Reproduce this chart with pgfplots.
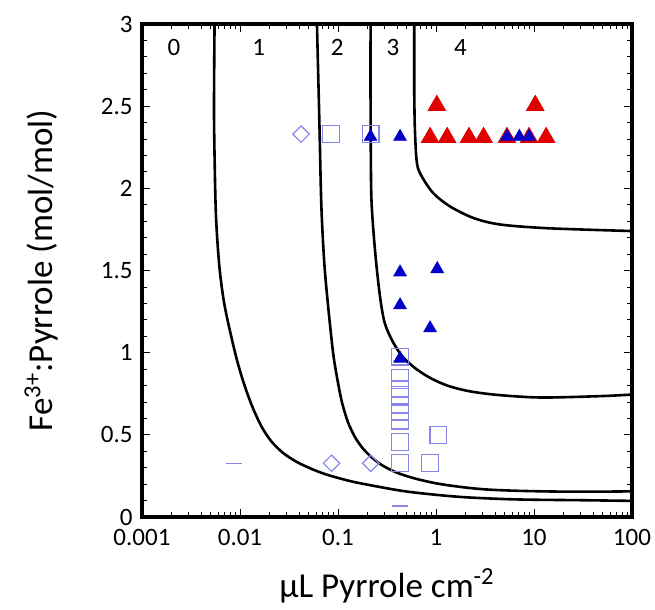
\documentclass[border=0pt]{standalone}
\usepackage{pgfplots}
\pgfplotsset{compat=1.18}
\usepackage{fontspec}
\setmainfont{Carlito}
\definecolor{tred}{RGB}{225,0,0}
\definecolor{tblue}{RGB}{0,0,200}
\definecolor{lblue}{RGB}{135,135,235}

\begin{document}
\begin{tikzpicture}
\begin{axis}[
    name=ax,
    scale only axis,
    width=245pt, height=246.5pt,
    xmode=log,
    xmin=0.001, xmax=100, ymin=0, ymax=3,
    xtick={0.001,0.01,0.1,1,10,100},
    xticklabels={0.001,0.01,0.1,1,10,100},
    ytick={0,0.5,1,1.5,2,2.5,3},
    yticklabels={0,0.5,1,1.5,2,2.5,3},
    minor y tick num=4,
    tick align=inside,
    xtick pos=both, ytick pos=both,
    major tick length=4pt, minor tick length=2.5pt,
    every tick/.style={black, line width=0.4pt},
    axis line style={line width=1.6pt},
    /pgf/number format/assume math mode=true,
    ticklabel style={font=\fontsize{12.5}{14}\selectfont, inner sep=0pt},
    xticklabel style={yshift=-6pt},
    yticklabel style={xshift=-4.5pt},
    xlabel={µL Pyrrole cm\textsuperscript{-2}},
    ylabel={Fe\textsuperscript{3+}:Pyrrole (mol/mol)},
    label style={font=\fontsize{17.5}{19}\selectfont},
    xlabel style={at={(axis description cs:0.5,-0.14)}, anchor=center},
    ylabel style={at={(axis description cs:-0.205,0.5)}, anchor=center},
    clip=true,
]

% open light-blue symbols
\addplot[only marks, mark=square, mark size=4.2pt, lblue, mark options={line width=0.6pt}] coordinates {
    (0.085,2.33) (0.215,2.33)
    (0.43,0.976) (0.43,0.844) (0.43,0.777) (0.43,0.732) (0.43,0.682)
    (0.43,0.641) (0.43,0.586) (0.43,0.455) (0.43,0.327)
    (1.06,0.50) (0.87,0.327)
};
\addplot[only marks, mark=square, mark size=2.9pt, lblue, mark options={rotate=45, line width=0.6pt}] coordinates {
    (0.042,2.33) (0.086,0.327) (0.216,0.327)
};
\addplot[only marks, mark=-, mark size=4pt, lblue, mark options={line width=0.6pt}] coordinates {
    (0.0086,0.327) (0.43,0.067)
};

% boundary curves
\addplot[black, line width=1.3pt, smooth] coordinates {
    (0.0055,3) (0.00543,2.5) (0.0055,2.2) (0.00569,1.83) (0.00617,1.52)
    (0.0070,1.28) (0.00891,1.0) (0.01072,0.83) (0.01318,0.68) (0.0166,0.55)
    (0.0209,0.46) (0.0275,0.39) (0.038,0.335) (0.055,0.29) (0.0794,0.255)
    (0.141,0.215) (0.282,0.18) (0.501,0.155) (1,0.135) (2,0.12)
    (5,0.109) (10,0.105) (31.6,0.102) (100,0.098)
};
\addplot[black, line width=1.3pt, smooth] coordinates {
    (0.061,3) (0.0646,2.4) (0.0676,1.9) (0.0724,1.55) (0.0794,1.28)
    (0.0891,1.0) (0.0977,0.85) (0.1096,0.70) (0.1259,0.58) (0.1479,0.49)
    (0.1778,0.42) (0.2188,0.365) (0.2818,0.315) (0.398,0.27) (0.6026,0.235)
    (1,0.205) (1.778,0.183) (3.162,0.168) (6.31,0.16) (15.85,0.155)
    (39.8,0.154) (100,0.156)
};
\addplot[black, line width=1.3pt, smooth] coordinates {
    (0.215,3) (0.215,2.5) (0.218,2.0) (0.226,1.8) (0.245,1.55)
    (0.27,1.33) (0.30,1.18) (0.36,1.07) (0.45,0.98) (0.6,0.91)
    (0.85,0.85) (1.3,0.80) (2.2,0.765) (4.4,0.742) (12,0.727) (50,0.736) (100,0.745)
};
\addplot[black, line width=1.3pt, smooth] coordinates {
    (0.60,3) (0.60,2.6) (0.61,2.35) (0.64,2.15) (0.72,2.07)
    (0.94,1.97) (1.39,1.89) (2.4,1.82) (4.5,1.78) (14,1.757) (100,1.74)
};

% filled triangles
\addplot[only marks, mark=triangle*, mark size=5pt, tred, mark options={yshift=-1.25pt}] coordinates {
    (1.02,2.52) (10.3,2.52)
    (0.87,2.325) (1.30,2.325) (2.17,2.325) (3.06,2.325)
    (5.3,2.325) (8.9,2.325) (13.3,2.325)
};
\addplot[only marks, mark=triangle*, mark size=3.6pt, tblue, mark options={yshift=-0.9pt}] coordinates {
    (0.215,2.325) (0.43,2.325) (5.3,2.325) (7.1,2.325) (8.9,2.325)
    (0.43,1.50) (1.03,1.52) (0.43,1.30) (0.87,1.16) (0.43,0.975)
};

% region labels
\node[font=\fontsize{12.5}{14}\selectfont] at (axis cs:0.00212,2.855) {0};
\node[font=\fontsize{12.5}{14}\selectfont] at (axis cs:0.0155,2.855) {1};
\node[font=\fontsize{12.5}{14}\selectfont] at (axis cs:0.098,2.855) {2};
\node[font=\fontsize{12.5}{14}\selectfont] at (axis cs:0.364,2.855) {3};
\node[font=\fontsize{12.5}{14}\selectfont] at (axis cs:1.78,2.855) {4};

\end{axis}
% page frame matching the reference margins (0.5pt per reference pixel)
\path ([xshift=-71pt,yshift=-43.5pt]ax.south west) rectangle ([xshift=11.5pt,yshift=12pt]ax.north east);
\end{tikzpicture}
\end{document}
